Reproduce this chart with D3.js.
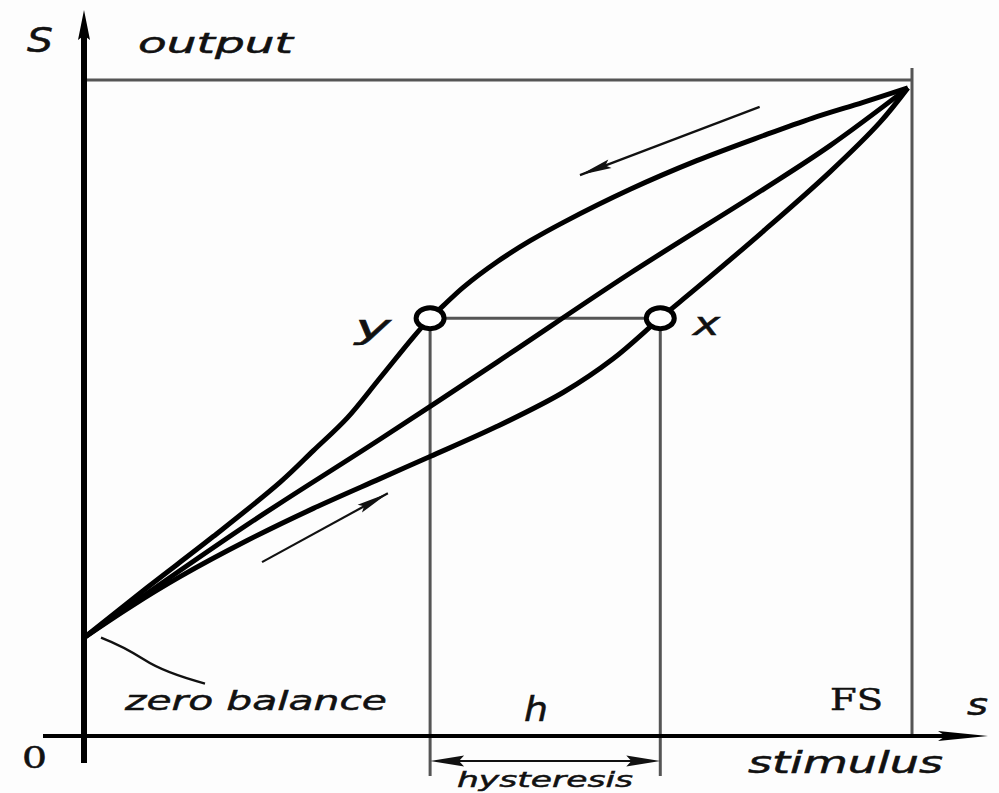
<!DOCTYPE html>
<html>
<head>
<meta charset="utf-8">
<script src="https://cdn.jsdelivr.net/npm/d3@7"></script>
<style>
  body { margin: 0; background: #fff; }
  text { font-family: 'DejaVu Sans', Verdana, sans-serif; fill: #111; stroke: #111; stroke-width: 0.5; }
  .serif { font-family: 'DejaVu Serif', 'Liberation Serif', serif; }
</style>
</head>
<body>
<svg id="chart"></svg>
<script>
// stimulus s as fraction of full scale (FS), output S as fraction of full output
const upperS = [0, 0.076, 0.156, 0.237, 0.277, 0.318, 0.357, 0.397, 0.418, 0.434, 0.458, 0.499, 0.539, 0.579, 0.659, 0.740, 0.820, 0.880, 0.941, 0.995];
const upperOut = [0.150, 0.226, 0.304, 0.387, 0.435, 0.485, 0.545, 0.607, 0.637, 0.656, 0.684, 0.723, 0.755, 0.783, 0.833, 0.877, 0.915, 0.942, 0.966, 0.988];

const middleS = [0, 0.197, 0.357, 0.499, 0.659, 0.820, 0.901, 0.995];
const middleOut = [0.150, 0.322, 0.452, 0.570, 0.705, 0.833, 0.900, 0.988];

const lowerS = [0, 0.056, 0.116, 0.197, 0.277, 0.357, 0.418, 0.499, 0.579, 0.639, 0.696, 0.740, 0.820, 0.901, 0.961, 0.995];
const lowerOut = [0.150, 0.197, 0.243, 0.298, 0.347, 0.392, 0.426, 0.472, 0.524, 0.575, 0.637, 0.683, 0.769, 0.860, 0.935, 0.988];

// hysteresis points y (decreasing branch) and x (increasing branch)
const hystNames = ['y', 'x'];
const hystS = [0.418, 0.696];
const hystOut = [0.637, 0.637];

// direction arrows: [from s, from S, to s, to S]
const dirArrows = [
  [0.816, 0.959, 0.599, 0.855],
  [0.215, 0.265, 0.367, 0.370]
];

const zeroBalance = 0.150;
const fullScale = 1;

class HysteresisVis {

  constructor(_config) {
    this.config = {
      parentElement: _config.parentElement,
      containerWidth: _config.containerWidth || 999,
      containerHeight: _config.containerHeight || 793
    }
    // pixel positions of the origin and of full scale / full output
    this.x = d3.scaleLinear().domain([0, 1]).range([84, 912]);
    this.y = d3.scaleLinear().domain([0, 1]).range([736, 80]);
  }

  initVis() {
    let vis = this;

    vis.svg = d3.select(vis.config.parentElement)
        .attr('width', vis.config.containerWidth)
        .attr('height', vis.config.containerHeight);

    vis.svg.append('rect')
        .attr('width', vis.config.containerWidth)
        .attr('height', vis.config.containerHeight)
        .attr('fill', '#fdfdfd');

    vis.chart = vis.svg.append('g');

    vis.line = d3.line()
        .x(d => vis.x(d[0]))
        .y(d => vis.y(d[1]))
        .curve(d3.curveCatmullRom.alpha(0.5));
  }

  // thin filled arrowhead with its tip at (tx, ty), pointing away from (fx, fy)
  head(fx, fy, tx, ty, len, half) {
    let a = Math.atan2(ty - fy, tx - fx);
    let bx = tx - len * Math.cos(a), by = ty - len * Math.sin(a);
    let px = -Math.sin(a) * half, py = Math.cos(a) * half;
    return `M${tx},${ty}L${bx + px},${by + py}L${bx + (tx - bx) * 0.15},${by + (ty - by) * 0.15}L${bx - px},${by - py}Z`;
  }

  render() {
    let vis = this;
    let x = vis.x, y = vis.y;
    let x0 = x(0), y0 = y(0);

    // Full output line and full scale line
    vis.chart.append('line')
        .attr('x1', x0).attr('x2', x(fullScale))
        .attr('y1', y(1)).attr('y2', y(1))
        .attr('stroke', '#555').attr('stroke-width', 3);
    vis.chart.append('line')
        .attr('x1', x(fullScale)).attr('x2', x(fullScale))
        .attr('y1', y(1) - 12).attr('y2', y0)
        .attr('stroke', '#555').attr('stroke-width', 3);

    // Hysteresis guide lines
    vis.chart.append('line')
        .attr('x1', x(hystS[0])).attr('x2', x(hystS[1]))
        .attr('y1', y(hystOut[0])).attr('y2', y(hystOut[1]))
        .attr('stroke', '#555').attr('stroke-width', 3);
    vis.chart.selectAll('.hyst-v')
        .data(hystS)
      .join('line')
        .attr('class', 'hyst-v')
        .attr('x1', d => x(d)).attr('x2', d => x(d))
        .attr('y1', (d, i) => y(hystOut[i])).attr('y2', y0 + 40)
        .attr('stroke', '#555').attr('stroke-width', 3);

    // Axes
    vis.chart.append('line')
        .attr('x1', x0).attr('x2', x0)
        .attr('y1', 28).attr('y2', y0 + 27)
        .attr('stroke', '#000').attr('stroke-width', 6);
    vis.chart.append('path')
        .attr('d', vis.head(x0, 100, x0, 10, 30, 6))
        .attr('fill', '#000');
    vis.chart.append('line')
        .attr('x1', 43).attr('x2', 960)
        .attr('y1', y0).attr('y2', y0)
        .attr('stroke', '#000').attr('stroke-width', 4);
    vis.chart.append('path')
        .attr('d', vis.head(900, y0, 988, y0, 50, 5))
        .attr('fill', '#000');

    // Curves
    let series = [
      d3.zip(upperS, upperOut),
      d3.zip(middleS, middleOut),
      d3.zip(lowerS, lowerOut)
    ];
    vis.chart.selectAll('.curve')
        .data(series)
      .join('path')
        .attr('class', 'curve')
        .attr('d', d => vis.line(d))
        .attr('fill', 'none')
        .attr('stroke', '#000')
        .attr('stroke-width', 5)
        .attr('stroke-linejoin', 'round');

    // Hysteresis markers
    vis.chart.selectAll('.pt')
        .data(hystS)
      .join('ellipse')
        .attr('class', 'pt')
        .attr('cx', d => x(d))
        .attr('cy', (d, i) => y(hystOut[i]))
        .attr('rx', 14).attr('ry', 10.5)
        .attr('fill', '#fff')
        .attr('stroke', '#000')
        .attr('stroke-width', 5);

    // Direction arrows
    dirArrows.forEach(a => {
      let fx = x(a[0]), fy = y(a[1]), tx = x(a[2]), ty = y(a[3]);
      vis.chart.append('line')
          .attr('x1', fx).attr('y1', fy).attr('x2', tx).attr('y2', ty)
          .attr('stroke', '#111').attr('stroke-width', 2.2);
      vis.chart.append('path')
          .attr('d', vis.head(fx, fy, tx, ty, 32, 4.5))
          .attr('fill', '#111');
    });

    // Hysteresis double arrow
    let ha = y0 + 25, hl = x(hystS[0]), hr = x(hystS[1]);
    vis.chart.append('line')
        .attr('x1', hl + 10).attr('x2', hr - 10)
        .attr('y1', ha).attr('y2', ha)
        .attr('stroke', '#111').attr('stroke-width', 2);
    vis.chart.append('path')
        .attr('d', vis.head(hr, ha, hl, ha, 34, 5.5))
        .attr('fill', '#111');
    vis.chart.append('path')
        .attr('d', vis.head(hl, ha, hr, ha, 34, 5.5))
        .attr('fill', '#111');

    // Zero balance leader
    vis.chart.append('path')
        .attr('d', `M${x0 + 17},${y(zeroBalance)} Q${x0 + 40},${y(zeroBalance) + 9} ${x0 + 60},${y(zeroBalance) + 22} T${x0 + 121},${y(zeroBalance) + 46}`)
        .attr('fill', 'none')
        .attr('stroke', '#111').attr('stroke-width', 2.4);

    // Labels
    let labels = [
      { t: 'S', x: 27, y: 52, size: 34, w: 26 },
      { t: 'output', x: 138, y: 53, size: 29, w: 155 },
      { t: hystNames[0], x: 355, y: 338, size: 32, w: 36 },
      { t: hystNames[1], x: 693, y: 335, size: 32, w: 27 },
      { t: 'zero balance', x: 125, y: 710, size: 27, w: 262 },
      { t: '0', x: 22, y: 768, size: 29, w: 25, serif: true },
      { t: 'h', x: 524, y: 721, size: 33, w: 24 },
      { t: 'FS', x: 830, y: 710, size: 29, w: 53, serif: true },
      { t: 's', x: 967, y: 715, size: 30, w: 21 },
      { t: 'stimulus', x: 748, y: 773, size: 30, w: 195 },
      { t: 'hysteresis', x: 457, y: 787, size: 22, w: 176 }
    ];
    vis.chart.selectAll('.label')
        .data(labels)
      .join('text')
        .attr('class', d => d.serif ? 'label serif' : 'label')
        .attr('x', d => d.x)
        .attr('y', d => d.y)
        .attr('font-size', d => d.size)
        .attr('font-style', d => d.serif ? 'normal' : 'italic')
        .attr('textLength', d => d.w)
        .attr('lengthAdjust', 'spacingAndGlyphs')
        .text(d => d.t);
  }
}

const vis = new HysteresisVis({ parentElement: '#chart' });
vis.initVis();
vis.render();
</script>
</body>
</html>
